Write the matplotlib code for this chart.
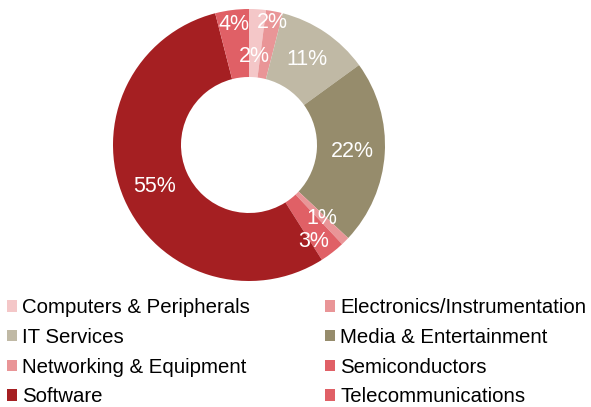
"""
Donut chart of share by sector
"""
import matplotlib.pyplot as plt
import numpy as np
from matplotlib.patches import Patch

plt.rcParams['font.family'] = ['Liberation Sans', 'DejaVu Sans']

sectors = ["Computers & Peripherals", "Electronics/Instrumentation", "IT Services",
           "Media & Entertainment", "Networking & Equipment", "Semiconductors",
           "Software", "Telecommunications"]
shares = [2, 2, 11, 22, 1, 3, 55, 4]
colors = ["#F4C7C8", "#E99597", "#C0B9A5", "#968C6C",
          "#E99597", "#E06066", "#A51F22", "#E06066"]
# label placement: radius (outer edge = 1, hole = 0.5) and angle nudge in degrees
label_r = [0.65, 0.92, 0.76, 0.76, 0.76, 0.85, 0.76, 0.89]
label_turn = [0, 0, 0, 0, 0, -4, 0, 0]

fig = plt.figure(figsize=(5.91, 4.07), dpi=100)
ax = fig.add_axes([(249 - 136) / 591, (407 - 145 - 136) / 407, 272 / 591, 272 / 407])
wedges, _ = ax.pie(shares, colors=colors, startangle=90, counterclock=False,
                   radius=1, wedgeprops=dict(width=0.5, linewidth=0))
for w, v, r, t in zip(wedges, shares, label_r, label_turn):
    a = np.deg2rad((w.theta1 + w.theta2) / 2 + t)
    ax.text(r * np.cos(a), r * np.sin(a), f"{v}%", color="white",
            fontsize=15.5, ha="center", va="center")
ax.set_xlim(-1, 1)
ax.set_ylim(-1, 1)
ax.set_aspect("equal")
ax.axis("off")

handles = [Patch(facecolor=c, edgecolor="none") for c in colors]
for col, x0 in [(0, 7), (1, 325)]:
    idx = range(col, len(sectors), 2)
    fig.legend([handles[i] for i in idx], [sectors[i] for i in idx],
               loc="upper left", bbox_to_anchor=(x0 / 591, 1 - 298 / 407),
               frameon=False, fontsize=14.7, borderpad=0, borderaxespad=0,
               handlelength=0.5, handleheight=0.5, handletextpad=0.25,
               labelspacing=0.53)

plt.savefig("out.png", dpi=100)
